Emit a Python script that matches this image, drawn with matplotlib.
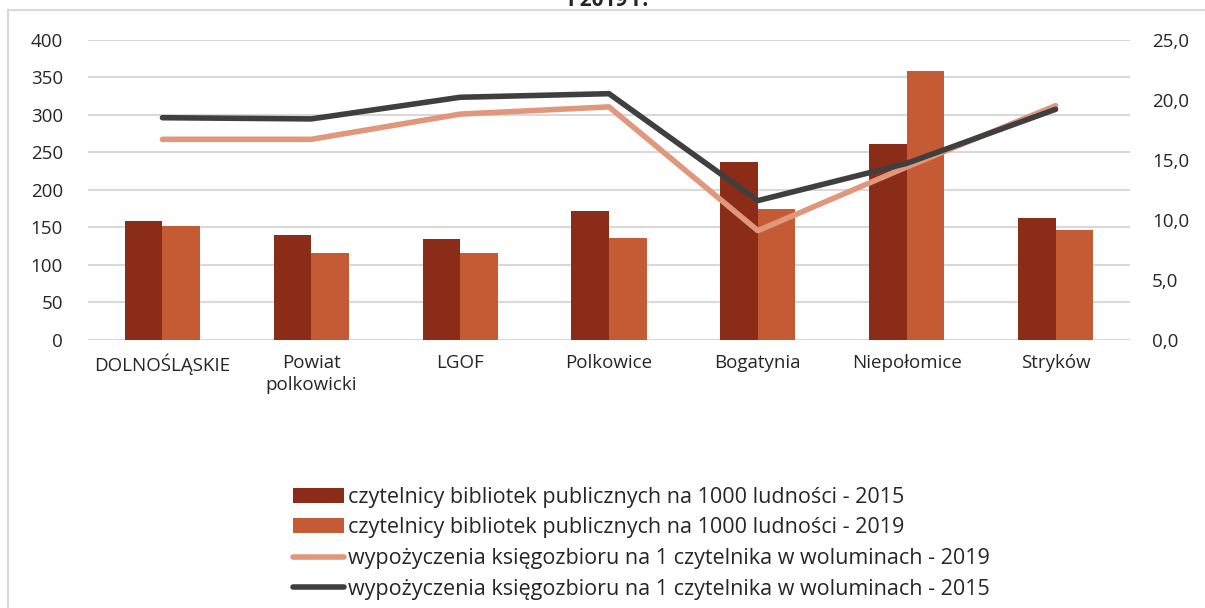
import numpy as np
import matplotlib.pyplot as plt
from matplotlib.lines import Line2D

plt.rcParams['font.family'] = ['Open Sans', 'DejaVu Sans']

categories = ['DOLNOŚLĄSKIE', 'Powiat\npolkowicki', 'LGOF', 'Polkowice', 'Bogatynia', 'Niepołomice', 'Stryków']
readers_2015 = [159, 140, 135, 172, 237, 261, 162]
readers_2019 = [152, 116, 116, 136, 175, 358, 147]
loans_2019 = [16.7, 16.7, 18.8, 19.4, 9.1, 14.4, 19.5]
loans_2015 = [18.5, 18.4, 20.2, 20.5, 11.6, 14.7, 19.2]

lbl_r15 = 'czytelnicy bibliotek publicznych na 1000 ludności - 2015'
lbl_r19 = 'czytelnicy bibliotek publicznych na 1000 ludności - 2019'
lbl_l19 = 'wypożyczenia księgozbioru na 1 czytelnika w woluminach - 2019'
lbl_l15 = 'wypożyczenia księgozbioru na 1 czytelnika w woluminach - 2015'

c_dark = '#8a2c17'
c_light = '#c45b34'
c_line19 = '#e0977c'
c_line15 = '#3f3f3f'
grid_c = '#d9d9d9'

fig = plt.figure(figsize=(12.05, 6.08), dpi=100)
ax = fig.add_axes([88 / 1205, 1 - 340 / 608, (1130 - 88) / 1205, 300.4 / 608])
ax2 = ax.twinx()

x = np.arange(len(categories))
w = 0.252
ax.bar(x - w / 2, readers_2015, w, color=c_dark, label=lbl_r15, zorder=2)
ax.bar(x + w / 2, readers_2019, w, color=c_light, label=lbl_r19, zorder=2)

ax2.plot(x, loans_2019, color=c_line19, lw=4, solid_capstyle='round', label=lbl_l19)
ax2.plot(x, loans_2015, color=c_line15, lw=4, solid_capstyle='round', label=lbl_l15)

ax.set_xlim(-0.5, len(categories) - 0.5)
ax.set_ylim(0, 400)
ax2.set_ylim(0, 25)
ax.set_yticks(np.arange(0, 401, 50))
ax2.set_yticks(np.arange(0, 26, 5))
ax2.set_yticklabels([f'{v:.1f}'.replace('.', ',') for v in np.arange(0, 26, 5)])
ax.set_xticks(x)
ax.set_xticklabels(categories, linespacing=1.3)
ax.grid(axis='y', color=grid_c, lw=1.5, zorder=0)
ax.set_axisbelow(True)

for a in (ax, ax2):
    for s in a.spines.values():
        s.set_visible(False)
    a.tick_params(length=0, labelsize=13.5, colors='#262626')
ax.tick_params(axis='y', pad=18)
ax2.tick_params(axis='y', pad=16)
ax.tick_params(axis='x', pad=10)

h1, l1 = ax.get_legend_handles_labels()
h2, l2 = ax2.get_legend_handles_labels()
fig.legend(h1 + h2, l1 + l2, loc='upper left', bbox_to_anchor=(282 / 1205, 1 - 476 / 608),
           frameon=False, fontsize=15.5, handlelength=2.4, handletextpad=0.15,
           labelspacing=0.45, borderpad=0, labelcolor='#262626')

# partially visible title and chart border
fig.text(0.505, 1 - 6 / 608, 'i 2019 r.', ha='center', va='baseline', fontsize=15, fontweight='bold', color='#262626')
fig.add_artist(Line2D([8 / 1205, 8 / 1205], [0, 1 - 10 / 608], color=grid_c, lw=1.5))
fig.add_artist(Line2D([8 / 1205, 1], [1 - 10 / 608, 1 - 10 / 608], color=grid_c, lw=1.5))

fig.savefig('out.png', dpi=100, facecolor='white')
